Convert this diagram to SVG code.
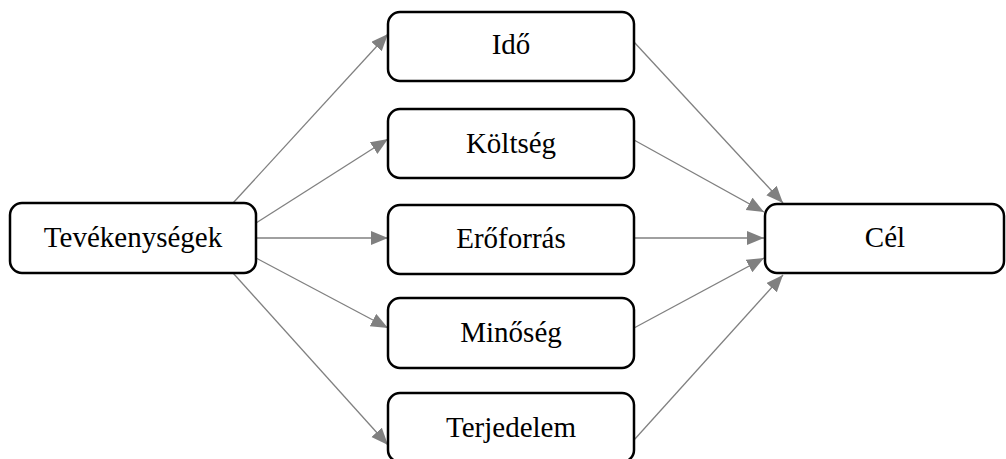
<svg xmlns="http://www.w3.org/2000/svg" width="1006" height="459" viewBox="0 0 1006 459">
<style>
.box{fill:#fff;stroke:#000;stroke-width:2.5}
.edge{stroke:#808080;stroke-width:1.3;fill:none;marker-end:url(#arr)}
.lbl{font-family:'Liberation Serif','Times New Roman',serif;font-size:29px;text-anchor:middle;fill:#000}
</style>
<defs>
<marker id="arr" markerUnits="userSpaceOnUse" markerWidth="20" markerHeight="16" refX="17" refY="7" orient="auto">
<path d="M0,0 L17,7 L0,14 z" fill="#808080"/>
</marker>
</defs>
<rect width="1006" height="459" fill="#fff"/>
<g id="connectors">
<line class="edge" x1="233" y1="203" x2="388" y2="34"/>
<line class="edge" x1="256" y1="223" x2="388" y2="139"/>
<line class="edge" x1="256" y1="238" x2="388" y2="238"/>
<line class="edge" x1="256" y1="258" x2="388" y2="328"/>
<line class="edge" x1="233" y1="273" x2="388" y2="445"/>
<line class="edge" x1="634" y1="42" x2="783" y2="203"/>
<line class="edge" x1="634" y1="140" x2="764" y2="212"/>
<line class="edge" x1="634" y1="238" x2="764" y2="238"/>
<line class="edge" x1="634" y1="328" x2="764" y2="258"/>
<line class="edge" x1="634" y1="440" x2="783" y2="275"/>
</g>
<g id="tevekenysegek">
<rect class="box" x="10" y="203" width="246" height="70" rx="12"/>
<text class="lbl" x="133" y="247">Tevékenységek</text>
</g>
<g id="ido">
<rect class="box" x="388" y="12" width="246" height="69" rx="12"/>
<text class="lbl" x="511" y="54">Idő</text>
</g>
<g id="koltseg">
<rect class="box" x="388" y="109" width="246" height="69" rx="12"/>
<text class="lbl" x="511" y="153">Költség</text>
</g>
<g id="eroforras">
<rect class="box" x="388" y="205" width="246" height="69" rx="12"/>
<text class="lbl" x="511" y="248">Erőforrás</text>
</g>
<g id="minoseg">
<rect class="box" x="388" y="298" width="246" height="70" rx="12"/>
<text class="lbl" x="511" y="342">Minőség</text>
</g>
<g id="terjedelem">
<rect class="box" x="388" y="393" width="246" height="69" rx="12"/>
<text class="lbl" x="511" y="437">Terjedelem</text>
</g>
<g id="cel">
<rect class="box" x="765" y="204" width="239" height="69" rx="12"/>
<text class="lbl" x="885" y="247">Cél</text>
</g>
</svg>
